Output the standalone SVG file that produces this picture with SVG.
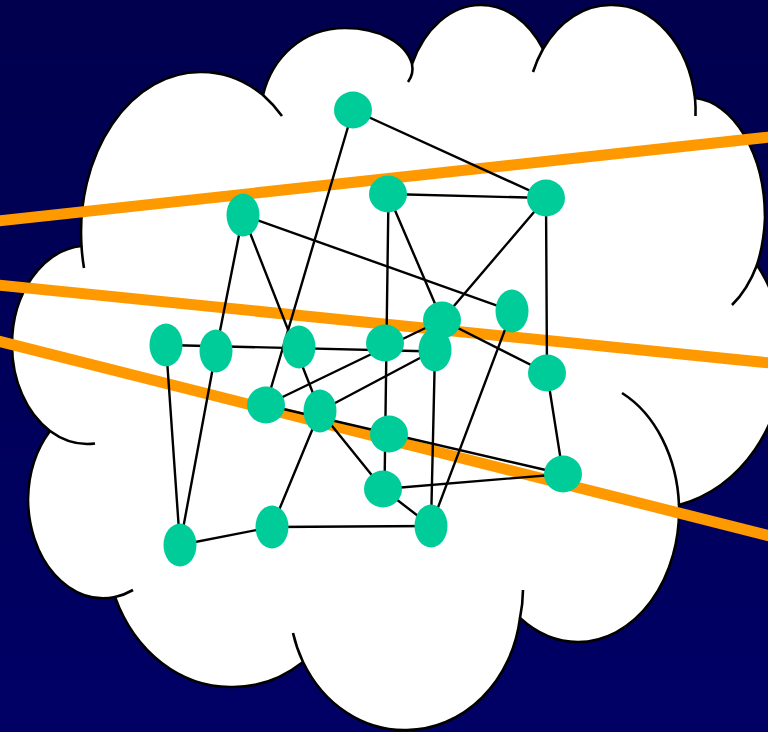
<svg xmlns="http://www.w3.org/2000/svg" width="768" height="732" viewBox="0 0 768 732">
  <defs>
    <linearGradient id="bg" x1="0" y1="0" x2="0" y2="1">
      <stop offset="0" stop-color="#00004e"/>
      <stop offset="1" stop-color="#000066"/>
    </linearGradient>
    <style>
      .cloud { fill: #ffffff; stroke: #000000; stroke-width: 2.6; stroke-linejoin: round; }
      .tail { fill: none; stroke: #000000; stroke-width: 2.6; stroke-linecap: butt; }
      .beam { fill: none; stroke: #ff9900; stroke-width: 11; }
      .edge { fill: none; stroke: #000000; stroke-width: 2.4; stroke-linecap: round; }
      .node { fill: #00cc99; }
    </style>
  </defs>

  <rect x="0" y="0" width="768" height="732" fill="url(#bg)"/>

  <g id="cloud">
    <path class="cloud" d="M 81.5 246
      A 119 160 0 0 1 200 72 A 119 160 0 0 1 263 95
      C 272 58 302 28 345 28 C 378 28 406 42 412 64
      A 76 105 0 0 1 480 5 A 76 105 0 0 1 543 49
      A 84 110 0 0 1 612 5 A 84 110 0 0 1 695 98
      A 75 120 0 0 1 765 218 A 75 120 0 0 1 757 265
      A 138 152 0 0 1 783 355 A 138 152 0 0 1 679 505
      A 101 132 0 0 1 578 642 A 101 132 0 0 1 520 618
      A 115 130 0 0 1 407 730 A 115 130 0 0 1 303 662
      A 125 147 0 0 1 232 687 A 125 147 0 0 1 115 597
      A 75 100 0 0 1 28 499 A 75 100 0 0 1 50 431
      A 76 99 0 0 1 12 345 A 76 99 0 0 1 81.5 246 Z"/>
    <path class="tail" d="M 84 268 A 119 160 0 0 1 81.5 246"/>
    <path class="tail" d="M 263 95 A 119 160 0 0 1 282 116"/>
    <path class="tail" d="M 412 64 Q 414 74 408 82"/>
    <path class="tail" d="M 533 72 A 84 110 0 0 1 543 49"/>
    <path class="tail" d="M 695 98 A 84 110 0 0 1 695.5 116"/>
    <path class="tail" d="M 757 265 A 75 120 0 0 1 732 305"/>
    <path class="tail" d="M 622 393 A 101 132 0 0 1 679 505"/>
    <path class="tail" d="M 523 590 A 115 130 0 0 1 520 618"/>
    <path class="tail" d="M 303 662 A 115 130 0 0 1 293 633"/>
    <path class="tail" d="M 133 590 A 75 100 0 0 1 115 597"/>
    <path class="tail" d="M 95 443.5 A 76 99 0 0 1 50 431"/>
  </g>

  <g id="beams">
    <line class="beam" x1="-2" y1="221" x2="770" y2="137"/>
    <line class="beam" x1="-2" y1="285" x2="770" y2="363"/>
    <line class="beam" x1="-2" y1="341" x2="770" y2="536"/>
  </g>

  <g id="connectors">
    <line class="edge" x1="353" y1="110" x2="546" y2="198"/>
    <line class="edge" x1="353" y1="110" x2="266" y2="405"/>
    <line class="edge" x1="388" y1="194" x2="546" y2="198"/>
    <line class="edge" x1="388.5" y1="194" x2="384.5" y2="489"/>
    <line class="edge" x1="388" y1="194" x2="442" y2="320"/>
    <line class="edge" x1="546" y1="198" x2="442" y2="320"/>
    <line class="edge" x1="546" y1="198" x2="547" y2="373"/>
    <line class="edge" x1="243" y1="215" x2="512" y2="311"/>
    <line class="edge" x1="243" y1="215" x2="216" y2="351"/>
    <line class="edge" x1="243" y1="215" x2="320" y2="411"/>
    <line class="edge" x1="512" y1="311" x2="431" y2="526"/>
    <line class="edge" x1="442" y1="320" x2="547" y2="373"/>
    <line class="edge" x1="442" y1="320" x2="266" y2="405"/>
    <line class="edge" x1="166" y1="345" x2="435" y2="351.5"/>
    <line class="edge" x1="166" y1="345" x2="180" y2="545"/>
    <line class="edge" x1="216" y1="351" x2="180" y2="545"/>
    <line class="edge" x1="180" y1="545" x2="272" y2="527"/>
    <line class="edge" x1="272" y1="527" x2="431" y2="526"/>
    <line class="edge" x1="272" y1="527" x2="320" y2="411"/>
    <line class="edge" x1="435" y1="350" x2="431" y2="526"/>
    <line class="edge" x1="435" y1="350" x2="320" y2="411"/>
    <line class="edge" x1="383" y1="489" x2="431" y2="526"/>
    <line class="edge" x1="266" y1="405" x2="563" y2="474"/>
    <line class="edge" x1="547" y1="373" x2="563" y2="474"/>
    <line class="edge" x1="563" y1="474" x2="383" y2="489"/>
    <line class="edge" x1="320" y1="411" x2="383" y2="489"/>
  </g>

  <g id="nA"><ellipse class="node" cx="353" cy="110" rx="19" ry="18.5"/></g>
  <g id="nB"><ellipse class="node" cx="388" cy="194" rx="19" ry="18.5"/></g>
  <g id="nC"><ellipse class="node" cx="546" cy="198" rx="19" ry="18.5"/></g>
  <g id="nD"><ellipse class="node" cx="243" cy="215" rx="16.5" ry="21.5"/></g>
  <g id="nE"><ellipse class="node" cx="512" cy="311" rx="16.5" ry="21.5"/></g>
  <g id="nK"><ellipse class="node" cx="435" cy="350" rx="16.5" ry="21.5"/></g>
  <g id="nF"><ellipse class="node" cx="442" cy="320" rx="19" ry="18.5"/></g>
  <g id="nG"><ellipse class="node" cx="166" cy="345" rx="16.5" ry="21.5"/></g>
  <g id="nH"><ellipse class="node" cx="216" cy="351" rx="16.5" ry="21.5"/></g>
  <g id="nI"><ellipse class="node" cx="299" cy="347" rx="16.5" ry="21.5"/></g>
  <g id="nJ"><ellipse class="node" cx="385" cy="343" rx="19" ry="18.5"/></g>
  <g id="nL"><ellipse class="node" cx="547" cy="373" rx="19" ry="18.5"/></g>
  <g id="nM"><ellipse class="node" cx="266" cy="405" rx="19" ry="18.5"/></g>
  <g id="nN"><ellipse class="node" cx="320" cy="411" rx="16.5" ry="21.5"/></g>
  <g id="nO"><ellipse class="node" cx="389" cy="434" rx="19" ry="18.5"/></g>
  <g id="nP"><ellipse class="node" cx="383" cy="489" rx="19" ry="18.5"/></g>
  <g id="nQ"><ellipse class="node" cx="563" cy="474" rx="19" ry="18.5"/></g>
  <g id="nR"><ellipse class="node" cx="180" cy="545" rx="16.5" ry="21.5"/></g>
  <g id="nS"><ellipse class="node" cx="272" cy="527" rx="16.5" ry="21.5"/></g>
  <g id="nT"><ellipse class="node" cx="431" cy="526" rx="16.5" ry="21.5"/></g>
</svg>
